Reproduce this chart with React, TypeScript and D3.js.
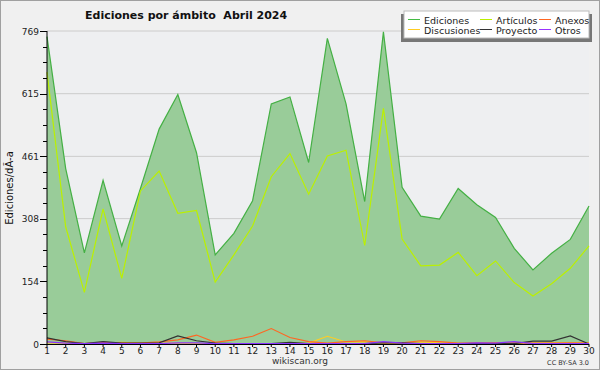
import React from "react";
import * as d3 from "d3";

const days = d3.range(1, 31);
const ediciones = [755, 431, 224, 402, 241, 382, 528, 613, 470, 219, 272, 352, 590, 607, 446, 751, 590, 350, 767, 385, 314, 307, 382, 342, 311, 235, 182, 223, 257, 339];
const articulos = [668, 288, 127, 332, 161, 376, 425, 321, 328, 152, 219, 290, 411, 468, 368, 462, 476, 242, 579, 258, 192, 194, 225, 168, 204, 151, 118, 148, 186, 241];
const anexos = [12, 8, 1, 4, 2, 2, 5, 10, 22, 4, 10, 19, 38, 16, 6, 2, 6, 8, 3, 3, 8, 6, 2, 3, 3, 3, 2, 2, 3, 2];
const discusiones = [3, 2, 1, 2, 4, 2, 2, 2, 1, 1, 1, 1, 1, 1, 2, 19, 5, 6, 2, 3, 5, 3, 1, 1, 2, 2, 2, 3, 2, 3];
const proyecto = [15, 6, 1, 6, 2, 2, 3, 20, 8, 2, 1, 1, 1, 4, 1, 1, 1, 1, 3, 3, 1, 1, 1, 1, 1, 1, 7, 7, 20, 0];
const otros = [5, 2, 1, 2, 1, 1, 1, 3, 3, 1, 1, 1, 1, 1, 1, 1, 1, 1, 6, 2, 1, 1, 1, 3, 2, 6, 1, 1, 1, 1];
const yTicks = [0, 154, 308, 461, 615, 769];
const yMax = 769;
const title = "Ediciones por ámbito  Abril 2024";
const yLabel = "Ediciones/dÃ-a";

const legendItems = [
  { name: "Ediciones", color: "#44bb44", row: 0, col: 0 },
  { name: "Artículos", color: "#bbee00", row: 0, col: 1 },
  { name: "Anexos", color: "#ff6622", row: 0, col: 2 },
  { name: "Discusiones", color: "#ffcc22", row: 1, col: 0 },
  { name: "Proyecto", color: "#333333", row: 1, col: 1 },
  { name: "Otros", color: "#9933ff", row: 1, col: 2 },
];

export default function App() {
  const W = 600, H = 370;
  const x = d3.scaleLinear().domain([1, 30]).range([47, 589]);
  const y = d3.scaleLinear().domain([0, yMax]).range([344, 31]);
  const line = (vals: number[]) =>
    d3.line<number>().x((_, i) => x(days[i])).y((v) => y(v))(vals) as string;
  const area = d3
    .area<number>()
    .x((_, i) => x(days[i]))
    .y0(y(0))
    .y1((v) => y(v))(ediciones) as string;
  const minor = d3.range(0, 21).map((i) => (yMax * i) / 20);
  const font = "DejaVu Sans, sans-serif";
  const colX = [408, 480, 539];
  const rowY = [20, 30];
  return (
    <svg width={W} height={H} style={{ position: "absolute", left: 0, top: 0 }} fontFamily={font}>
      <rect x={0.5} y={0.5} width={W - 1} height={H - 1} fill="#f0f0f0" stroke="#a0a0a0" />
      <rect x={47} y={31} width={542} height={313} fill="#eeeff1" />
      {yTicks.map((t) => (
        <line key={"g" + t} x1={47} x2={589} y1={y(t)} y2={y(t)} stroke="#cccccc" />
      ))}
      <path d={area} fill="#99cc99" />
      <path d={line(ediciones)} fill="none" stroke="#44b044" strokeWidth={1.2} />
      <path d={line(articulos)} fill="none" stroke="#bbf000" strokeWidth={1.2} />
      <path d={line(discusiones)} fill="none" stroke="#ffcc22" strokeWidth={1.2} />
      <path d={line(anexos)} fill="none" stroke="#ff6622" strokeWidth={1.2} />
      <path d={line(proyecto)} fill="none" stroke="#333333" strokeWidth={1.2} />
      <path d={line(otros)} fill="none" stroke="#8833ff" strokeWidth={1.2} />
      <line x1={47} x2={47} y1={31} y2={344} stroke="#000" />
      <line x1={47} x2={589} y1={344.5} y2={344.5} stroke="#000" />
      {minor.map((t, i) => (
        <line key={"m" + i} x1={i % 4 === 0 ? 40 : 43} x2={47} y1={Math.round(y(t)) + 0.5} y2={Math.round(y(t)) + 0.5} stroke="#000" />
      ))}
      {yTicks.map((t) => (
        <text key={"yl" + t} x={39} y={y(t) + 3.5} fontSize={9} textAnchor="end" fill="#222">
          {t}
        </text>
      ))}
      {days.map((d) => (
        <g key={"x" + d}>
          <line x1={x(d)} x2={x(d)} y1={344} y2={347} stroke="#000" />
          <text x={x(d)} y={354} fontSize={9} textAnchor="middle" fill="#222">
            {d}
          </text>
        </g>
      ))}
      <text x={300} y={364} fontSize={9} textAnchor="middle" fill="#333">wikiscan.org</text>
      <text x={589} y={365} fontSize={6.5} textAnchor="end" fill="#333">CC BY-SA 3.0</text>
      <text transform={`translate(13,${188}) rotate(-90)`} fontSize={10} textAnchor="middle" fill="#111">
        {yLabel}
      </text>
      <text x={85} y={19} fontSize={11} fontWeight="bold" fill="#111" style={{ whiteSpace: "pre" }} xmlSpace="preserve">{title}</text>
      <rect x={401} y={14} width={191} height={28} fill="#777" />
      <rect x={404} y={11} width={185} height={27} fill="#fff" stroke="#bbb" />
      {legendItems.map((it) => (
        <g key={it.name}>
          <line x1={colX[it.col]} x2={colX[it.col] + 12} y1={rowY[it.row] - 0.5} y2={rowY[it.row] - 0.5} stroke={it.color} />
          <text x={colX[it.col] + 16} y={rowY[it.row] + 3.5} fontSize={9.5} fill="#222">
            {it.name}
          </text>
        </g>
      ))}
    </svg>
  );
}
